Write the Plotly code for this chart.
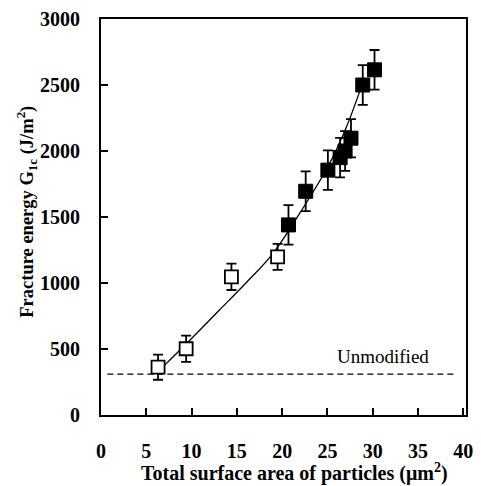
import plotly.graph_objects as go

# Open squares
open_x = [6.3, 9.4, 14.4, 19.5]
open_y = [362, 502, 1047, 1198]
open_err = [95, 100, 100, 98]

# Filled squares
fill_x = [20.7, 22.6, 25.05, 26.4, 26.95, 27.6, 28.9, 30.2]
fill_y = [1440, 1695, 1855, 1950, 2000, 2097, 2500, 2615]
fill_err = [150, 150, 150, 150, 150, 145, 150, 150]

# Fitted curve
fit_x = [7.0, 10.0, 13.0, 16.0, 19.0, 22.0, 25.0, 27.0, 28.8]
fit_y = [376, 580, 790, 1000, 1225, 1535, 1875, 2165, 2497]

# Unmodified baseline
base_x = [0.7, 39.2]
base_y = [310, 310]

x_ticks = [0, 5, 10, 15, 20, 25, 30, 35, 40]
y_ticks = [0, 500, 1000, 1500, 2000, 2500, 3000]

font = "Liberation Serif, Times New Roman, serif"

fig = go.Figure()
fig.add_trace(go.Scatter(x=base_x, y=base_y, mode="lines",
                         line=dict(color="black", width=1.3, dash="6px,4px"),
                         showlegend=False, hoverinfo="skip"))
fig.add_trace(go.Scatter(x=fit_x, y=fit_y, mode="lines", line_shape="spline",
                         line=dict(color="black", width=1.3, smoothing=1.0),
                         showlegend=False, hoverinfo="skip"))
fig.add_trace(go.Scatter(x=open_x, y=open_y, mode="markers",
                         marker=dict(symbol="square", size=13, color="white",
                                     line=dict(color="black", width=1.8)),
                         error_y=dict(type="data", array=open_err, visible=True,
                                      color="black", thickness=1.8, width=5),
                         showlegend=False))
fig.add_trace(go.Scatter(x=fill_x, y=fill_y, mode="markers",
                         marker=dict(symbol="square", size=14, color="black",
                                     line=dict(color="black", width=1)),
                         error_y=dict(type="data", array=fill_err, visible=True,
                                      color="black", thickness=1.8, width=5),
                         showlegend=False))

fig.add_annotation(x=31.1, y=444, text="Unmodified", showarrow=False,
                   font=dict(family=font, size=19, color="black"))

# Axis titles
fig.add_annotation(xref="paper", yref="paper", x=0.529, y=-0.145,
                   xanchor="center", yanchor="middle", showarrow=False,
                   text="<b>Total surface area of particles (μm<sup>2</sup>)</b>",
                   font=dict(family=font, size=20, color="black"))
fig.add_annotation(xref="paper", yref="paper", x=-0.203, y=0.513,
                   xanchor="center", yanchor="middle", showarrow=False, textangle=-90,
                   text="<b>Fracture energy G<sub>1c</sub> (J/m<sup>2</sup>)</b>",
                   font=dict(family=font, size=18.5, color="black"))

fig.update_layout(
    width=481, height=486,
    margin=dict(l=101, r=8, t=17, b=71),
    paper_bgcolor="white", plot_bgcolor="white",
    font=dict(family=font, color="black"),
)
fig.update_xaxes(range=[0, 40.3], tickvals=x_ticks, ticktext=[str(v) for v in x_ticks],
                 ticks="inside", ticklen=7, tickwidth=1.8, tickcolor="black",
                 showline=True, linecolor="black", linewidth=2, mirror=True,
                 showgrid=False, zeroline=False,
                 tickfont=dict(family=font, size=20, color="black", weight="bold"),
                 ticklabelstandoff=17)
fig.update_yaxes(range=[0, 3000], tickvals=y_ticks, ticktext=[str(v) for v in y_ticks],
                 ticks="inside", ticklen=7, tickwidth=1.8, tickcolor="black",
                 showline=True, linecolor="black", linewidth=2, mirror=True,
                 showgrid=False, zeroline=False,
                 tickfont=dict(family=font, size=20, color="black", weight="bold"),
                 ticklabelstandoff=15)

fig.write_html("out.html")
